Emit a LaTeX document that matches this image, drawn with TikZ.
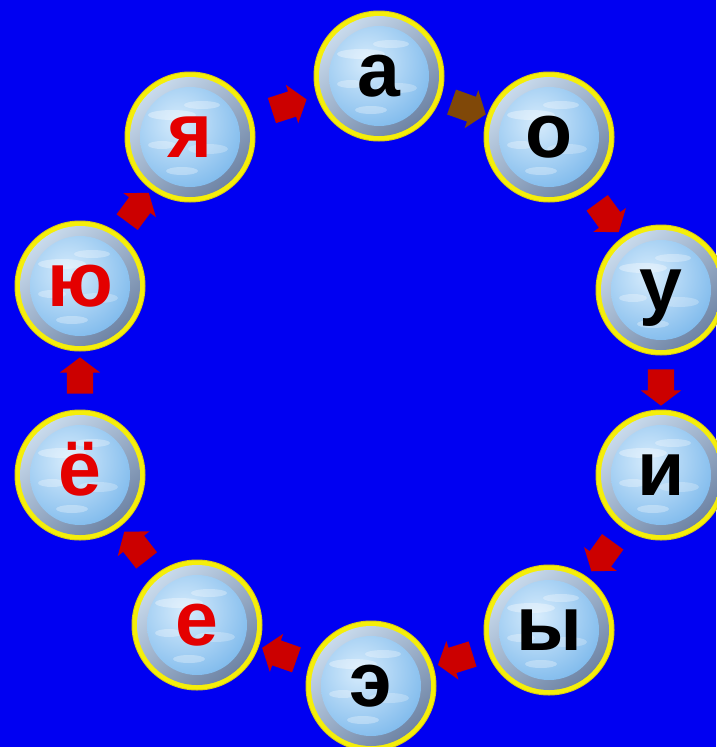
\documentclass[tikz,border=0pt]{standalone}
\usepackage{fontspec}
\setmainfont{Liberation Sans}
\usetikzlibrary{shapes.arrows}
\definecolor{bg}{RGB}{0,0,242}
\definecolor{rim}{RGB}{245,238,10}
\definecolor{rimdark}{RGB}{215,200,20}
\definecolor{ringlight}{RGB}{200,218,236}
\definecolor{ringdark}{RGB}{110,132,165}
\definecolor{skyin}{RGB}{215,236,252}
\definecolor{skyout}{RGB}{125,185,236}
\definecolor{arrowred}{RGB}{204,0,0}
\definecolor{arrowbrown}{RGB}{128,72,8}
\definecolor{letterred}{RGB}{228,0,0}
\tikzset{
  bubble/.style={circle, inner sep=0pt, minimum size=131pt,
    text height=40pt, text depth=0pt,
    font=\fontsize{77}{77}\selectfont\bfseries},
  blackletter/.style={bubble, text=black},
  redletter/.style={bubble, text=letterred},
  blockarrow/.style={single arrow, draw=none, fill=arrowred, inner sep=13pt,
    minimum height=32pt,
    single arrow head extend=7pt, single arrow tip angle=106},
}
\newcommand\bubbleat[4]{%
  \begin{scope}[shift={(#2)}]
    \fill[rimdark] (0,0) circle (65.5pt);
    \fill[rim] (0,0) circle (64.5pt);
    \shade[top color=ringlight, bottom color=ringdark, shading angle=40] (0,0) circle (60pt);
    \begin{scope}
      \clip (0,0) circle (50pt);
      \shade[inner color=skyin, outer color=skyout] (-12,-14) circle (72pt);
      \fill[white, opacity=0.35] (-18,-22) ellipse (24pt and 5pt);
      \fill[white, opacity=0.3] (12,-32) ellipse (18pt and 4pt);
      \fill[white, opacity=0.3] (-28,8) ellipse (14pt and 4pt);
      \fill[white, opacity=0.25] (18,12) ellipse (20pt and 5pt);
      \fill[white, opacity=0.3] (-8,34) ellipse (16pt and 4pt);
    \end{scope}
  \end{scope}
  \node[#4] (#1) at (#2) {#3};
}
\begin{document}
\begin{tikzpicture}[x=1pt,y=-1pt]
  \fill[bg] (0,0) rectangle (716,747);
  \useasboundingbox (0,0) rectangle (716,747);
  \bubbleat{a}{379,76}{а}{blackletter}
  \bubbleat{o}{549,137}{о}{blackletter}
  \bubbleat{u}{661,290}{у}{blackletter}
  \bubbleat{i}{661,475}{и}{blackletter}
  \bubbleat{yy}{549,630}{ы}{blackletter}
  \bubbleat{ee}{371,686}{э}{blackletter}
  \bubbleat{ye}{197,625}{е}{redletter}
  \bubbleat{yo}{80,475}{ё}{redletter}
  \bubbleat{yu}{80,286}{ю}{redletter}
  \bubbleat{ya}{190,137}{я}{redletter}
  \path (ya) -- (a)  node[midway, sloped, allow upside down, blockarrow] {};
  \path (a)  -- (o)  node[midway, sloped, allow upside down, blockarrow, fill=arrowbrown] {};
  \path (o)  -- (u)  node[midway, sloped, allow upside down, blockarrow] {};
  \path (u)  -- (i)  node[midway, sloped, allow upside down, blockarrow] {};
  \path (i)  -- (yy) node[midway, sloped, allow upside down, blockarrow] {};
  \path (yy) -- (ee) node[midway, sloped, allow upside down, blockarrow] {};
  \path (ee) -- (ye) node[midway, sloped, allow upside down, blockarrow] {};
  \path (ye) -- (yo) node[midway, sloped, allow upside down, blockarrow] {};
  \path (yo) -- (yu) node[midway, sloped, allow upside down, blockarrow] {};
  \path (yu) -- (ya) node[midway, sloped, allow upside down, blockarrow] {};
\end{tikzpicture}
\end{document}
